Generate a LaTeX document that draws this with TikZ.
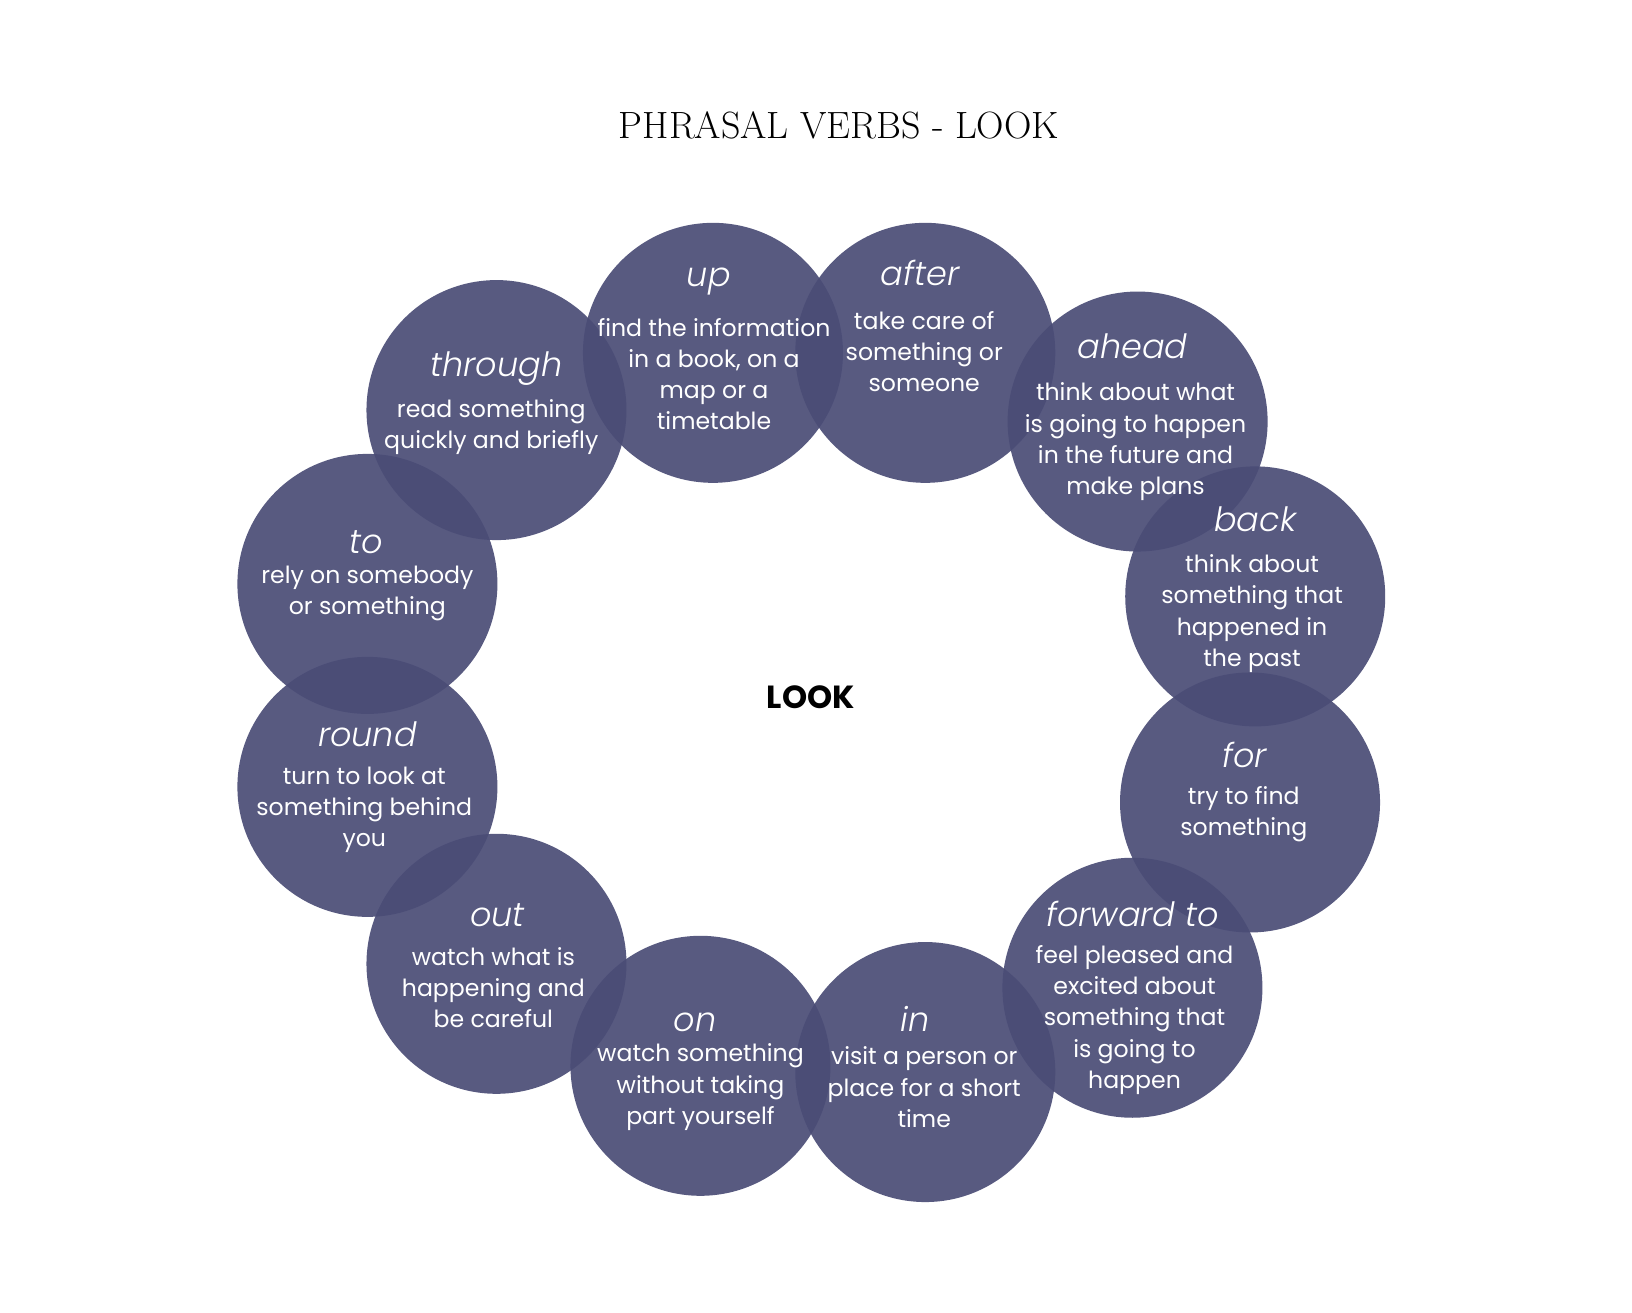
\documentclass[tikz,border=0pt]{standalone}
\usepackage{fontspec}
\newfontfamily\gothic{Poppins}
\newfontfamily\gothiclight{Poppins Light}[ItalicFont={Poppins Light Italic}]
\begin{document}
\begin{tikzpicture}[x=1.0408pt,y=-1.0408pt]
\definecolor{disc}{RGB}{74,76,118}
\tikzset{
  disc/.style={circle, fill=disc, fill opacity=0.92, minimum size=260pt, inner sep=0pt},
  verbword/.style={text=white, inner sep=0pt, anchor=base, font=\gothiclight\itshape\fontsize{33.5}{38}\selectfont},
  gloss/.style={text=white, inner sep=0pt, align=center, font=\gothic\fontsize{23.6}{31.2}\selectfont},
}
\useasboundingbox[fill=white] (0,0) rectangle (1568,1261);

\node[font=\fontsize{38}{44}\selectfont] (title) at (806,120) {PHRASAL VERBS - LOOK};

% ring of discs
\node[disc] (up)      at (685,339)  {};
\node[disc] (after)   at (889,339)  {};
\node[disc] (ahead)   at (1093,405) {};
\node[disc] (back)    at (1206,573) {};
\node[disc] (for)     at (1201,771) {};
\node[disc] (forward) at (1088,949) {};
\node[disc] (in)      at (889,1030) {};
\node[disc] (on)      at (673,1024) {};
\node[disc] (out)     at (477,926)  {};
\node[disc] (round)   at (353,756)  {};
\node[disc] (to)      at (353,561)  {};
\node[disc] (through) at (477,394)  {};

% particles (placed on their baselines)
\node[verbword] (up-w)      at (681,275)  {up};
\node[verbword] (after-w)   at (884,274)  {after};
\node[verbword] (ahead-w)   at (1088,344) {ahead};
\node[verbword] (back-w)    at (1206,511) {back};
\node[verbword] (for-w)     at (1196,737) {for};
\node[verbword] (forward-w) at (1088,890) {forward to};
\node[verbword] (in-w)      at (879,991)  {in};
\node[verbword] (on-w)      at (668,991)  {on};
\node[verbword] (out-w)     at (478,890)  {out};
\node[verbword] (round-w)   at (353,717)  {round};
\node[verbword] (to-w)      at (352,532)  {to};
\node[verbword] (through-w) at (477,362)  {through};

% meanings
\node[gloss] (up-g)      at (686,359.5)  {find the information\\in a book, on a\\map or a\\timetable};
\node[gloss] (after-g)   at (888,338)    {take care of\\something or\\someone};
\node[gloss] (ahead-g)   at (1091,424.5) {think about what\\is going to happen\\in the future and\\make plans};
\node[gloss] (back-g)    at (1203,589.5) {think about\\something that\\happened in\\the past};
\node[gloss] (for-g)     at (1195,782.5) {try to find\\something};
\node[gloss] (forward-g) at (1090,980)   {feel pleased and\\excited about\\something that\\is going to\\happen};
\node[gloss] (in-g)      at (888,1044.5) {visit a person or\\place for a short\\time};
\node[gloss] (on-g)      at (673,1044.5) {watch something\\without taking\\part yourself};
\node[gloss] (out-g)     at (474,949)    {watch what is\\happening and\\be careful};
\node[gloss] (round-g)   at (350,778)    {turn to look at\\something behind\\you};
\node[gloss] (to-g)      at (353,570.5)  {rely on somebody\\or something};
\node[gloss] (through-g) at (472,410)    {read something\\quickly and briefly};

\node[font=\gothic\bfseries\fontsize{32}{38}\selectfont] (look) at (779,670) {LOOK};
\end{tikzpicture}
\end{document}
